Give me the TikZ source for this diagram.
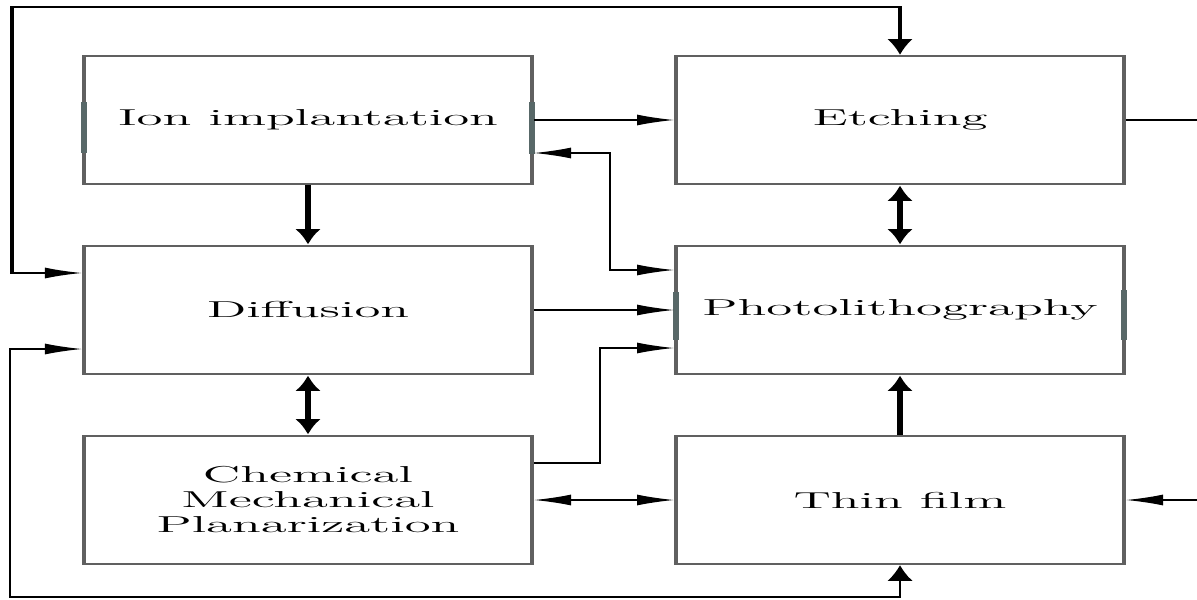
\documentclass[tikz,border=0pt]{standalone}
\usetikzlibrary{arrows.meta}
\definecolor{boxgray}{RGB}{96,96,96}
\definecolor{marktone}{RGB}{88,104,104}
\tikzset{
  proc/.style={draw=boxgray, line width=0.95pt, rectangle, minimum width=97.4pt,
    minimum height=64pt, inner sep=0pt, align=center,
    font=\fontsize{11.5pt}{12.5pt}\selectfont},
  conn/.style={line width=0.6pt, >={Latex[length=8pt,width=5.5pt]}},
  thickconn/.style={conn, line width=1.2pt},
  edgemark/.style={draw=marktone, line width=1.3pt}
}
\begin{document}
\begin{tikzpicture}
\useasboundingbox (0,0) rectangle (598.5pt,-299.5pt);
\begin{scope}[x=0.217391pt, y=-0.5pt, transform canvas={xscale=2.3}]
  \node[proc] (ion)   at (308,120) {Ion implantation};
  \node[proc] (etch)  at (900,120) {Etching};
  \node[proc] (diff)  at (308,310) {Diffusion};
  \node[proc] (photo) at (900,310) {Photolithography};
  \node[proc] (cmp)   at (308,500) {Chemical\\Mechanical\\Planarization};
  \node[proc] (thin)  at (900,500) {Thin film};

  % border highlights
  \draw[edgemark] (84,102) -- (84,153);
  \draw[edgemark] (532,102) -- (532,154);
  \draw[edgemark] (676,292) -- (676,340);
  \draw[edgemark] (1124,290) -- (1124,340);

  % connectors
  \draw[conn,->] (ion.east) -- (etch.west);
  \draw[conn,<->] (ion.east |- 0,153) -- (610,153) -- (610,270) -- (photo.west |- 0,270);
  \draw[conn,->] (diff.east) -- (photo.west);
  \draw[conn,->] (cmp.east |- 0,463) -- (600,463) -- (600,348) -- (photo.west |- 0,348);
  \draw[conn,<->] (cmp.east) -- (thin.west);
  \draw[thickconn,->] (ion.south) -- (diff.north);
  \draw[thickconn,<->] (diff.south) -- (cmp.north);
  \draw[thickconn,<->] (photo.north) -- (etch.south);
  \draw[thickconn,->] (thin.north) -- (photo.south);

  \coordinate (outE) at (1197,120);
  \coordinate (inT) at (1197,500);
  \draw[conn] (etch.east) -- (outE);
  \draw[conn,->] (inT) -- (thin.east);

  \draw[conn,line width=0.75pt,<->] (diff.west |- 0,273) -- (12,273) -- (12,7) -- (etch.north |- 0,7) -- (etch.north);
  \draw[conn,<->] (diff.west |- 0,349) -- (10,349) -- (10,597) -- (thin.south |- 0,597) -- (thin.south);
\end{scope}
\end{tikzpicture}
\end{document}
